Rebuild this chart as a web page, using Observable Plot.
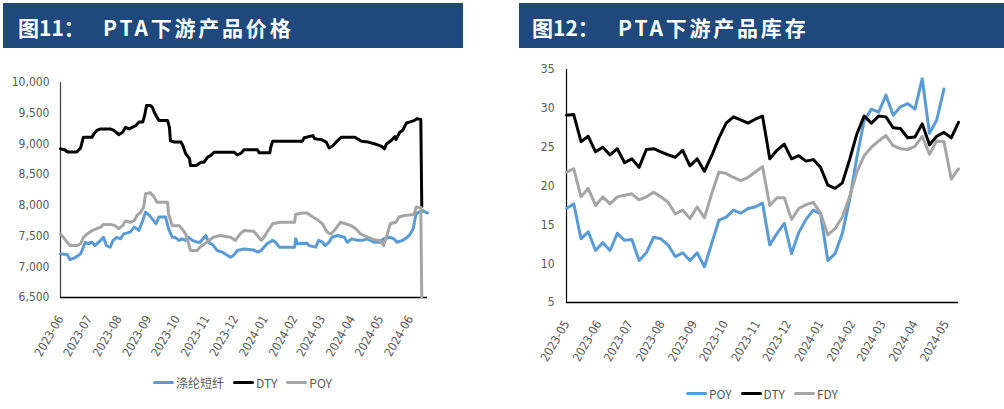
<!DOCTYPE html>
<html><head><meta charset="utf-8">
<script src="https://cdn.jsdelivr.net/npm/d3@7"></script>
<script src="https://cdn.jsdelivr.net/npm/@observablehq/plot@0.6"></script>
<style>
body{margin:0;background:#fff;}
#wrap{position:relative;width:1004px;height:409px;overflow:hidden;background:#fff;}
.bar{position:absolute;top:3px;height:45px;background:#1f497d;}
.bar span{position:absolute;top:14px;line-height:1;color:#fff;font-weight:bold;font-size:21px;font-family:"Noto Sans CJK SC",sans-serif;white-space:pre;}
.bar .a{letter-spacing:0px;}
.bar .b{letter-spacing:2.8px;}
.chart{position:absolute;}
.legend{position:absolute;display:flex;align-items:center;height:14px;font-size:12px;font-family:"Liberation Sans Narrow","Noto Sans CJK SC",sans-serif;color:#595959;}
.legend .item{display:flex;align-items:center;margin-right:9px;}
.legend .sw{display:inline-block;width:21px;height:3px;border-radius:2px;margin-right:2px;}
</style></head>
<body><div id="wrap">
<div class="bar" style="left:3px;width:460px;"><span class="a" style="left:15px;">图11：</span><span class="b" style="left:100px;">PTA下游产品价格</span></div>
<div class="bar" style="left:519px;width:485px;"><span class="a" style="left:13px;">图12：</span><span class="b" style="left:99px;">PTA下游产品库存</span></div>
<div id="left" class="chart" style="left:0;top:60px;"></div>
<div id="right" class="chart" style="left:500px;top:55px;"></div>
<div id="legL" class="legend" style="left:153px;top:375px;"></div>
<div id="legR" class="legend" style="left:686px;top:386px;"></div>
</div>
<script>
// ---------- Left chart: PTA downstream product prices ----------
const priceSeries = ["涤纶短纤", "DTY", "POY"];
const priceColors = ["#5b9bd5", "#000000", "#a5a5a5"];
const priceYTicks = [6500, 7000, 7500, 8000, 8500, 9000, 9500, 10000];
const priceXTicks = ["2023-06-01","2023-07-01","2023-08-01","2023-09-01","2023-10-01","2023-11-01","2023-12-01","2024-01-01","2024-02-01","2024-03-01","2024-04-01","2024-05-01","2024-06-01"];
const priceXDomain = ["2023-06-01", "2024-06-19"];

const fiberDates = ["2023-06-01","2023-06-08","2023-06-11","2023-06-17","2023-06-22","2023-06-27","2023-06-30","2023-07-04","2023-07-07","2023-07-13","2023-07-16","2023-07-19","2023-07-23","2023-07-26","2023-07-30","2023-08-03","2023-08-06","2023-08-13","2023-08-17","2023-08-20","2023-08-22","2023-08-26","2023-08-29","2023-09-02","2023-09-05","2023-09-09","2023-09-12","2023-09-19","2023-09-22","2023-09-26","2023-09-29","2023-10-03","2023-10-06","2023-10-10","2023-10-13","2023-10-17","2023-10-22","2023-10-25","2023-10-31","2023-11-03","2023-11-08","2023-11-12","2023-11-17","2023-11-26","2023-11-29","2023-12-03","2023-12-10","2023-12-20","2023-12-24","2023-12-28","2024-01-03","2024-01-09","2024-01-12","2024-01-16","2024-02-01","2024-02-02","2024-02-04","2024-02-14","2024-02-16","2024-02-23","2024-02-26","2024-03-01","2024-03-04","2024-03-08","2024-03-11","2024-03-17","2024-03-24","2024-03-27","2024-04-01","2024-04-07","2024-04-12","2024-04-17","2024-04-24","2024-05-01","2024-05-04","2024-05-11","2024-05-15","2024-05-18","2024-05-24","2024-05-29","2024-06-01","2024-06-04","2024-06-07","2024-06-10","2024-06-14","2024-06-17","2024-06-19"];
const fiberValues = [7210,7200,7115,7155,7210,7400,7375,7400,7345,7430,7480,7345,7320,7430,7480,7455,7535,7565,7645,7620,7590,7750,7890,7835,7780,7700,7810,7810,7620,7480,7480,7430,7455,7430,7480,7430,7400,7400,7510,7400,7345,7265,7240,7155,7185,7265,7290,7275,7240,7265,7375,7430,7400,7320,7320,7455,7375,7385,7345,7320,7430,7400,7345,7400,7480,7510,7480,7400,7455,7430,7430,7455,7400,7400,7455,7480,7455,7400,7430,7480,7535,7620,7860,7890,7915,7890,7875];

const dtyDates = ["2023-06-01","2023-06-06","2023-06-08","2023-06-18","2023-06-22","2023-06-25","2023-07-04","2023-07-06","2023-07-09","2023-07-13","2023-07-23","2023-07-27","2023-08-01","2023-08-05","2023-08-08","2023-08-12","2023-08-15","2023-08-19","2023-08-22","2023-08-26","2023-08-28","2023-08-30","2023-09-03","2023-09-05","2023-09-07","2023-09-10","2023-09-12","2023-09-21","2023-09-23","2023-09-24","2023-09-28","2023-10-05","2023-10-07","2023-10-10","2023-10-14","2023-10-15","2023-10-21","2023-10-26","2023-10-29","2023-11-02","2023-11-05","2023-11-09","2023-11-30","2023-12-03","2023-12-07","2023-12-10","2023-12-24","2023-12-26","2024-01-06","2024-01-07","2024-01-09","2024-02-09","2024-02-11","2024-02-20","2024-02-22","2024-02-29","2024-03-05","2024-03-08","2024-03-12","2024-03-17","2024-03-21","2024-04-04","2024-04-11","2024-04-18","2024-04-25","2024-05-02","2024-05-05","2024-05-07","2024-05-12","2024-05-16","2024-05-17","2024-05-21","2024-05-24","2024-05-28","2024-05-31","2024-06-05","2024-06-08","2024-06-12","2024-06-13"];
const dtyValues = [8920,8900,8870,8870,8935,9110,9110,9165,9220,9245,9245,9220,9150,9190,9270,9245,9270,9300,9355,9355,9460,9625,9625,9600,9520,9435,9380,9380,9270,9055,9030,9030,8975,8840,8760,8650,8650,8700,8700,8785,8810,8865,8865,8820,8850,8905,8905,8855,8855,8945,9045,9045,9100,9135,9085,9070,9030,8935,8970,9055,9110,9110,9045,9030,9000,8960,8920,9000,9055,9120,9070,9190,9220,9340,9355,9380,9410,9400,7980];

const poyDates = ["2023-06-01","2023-06-04","2023-06-08","2023-06-11","2023-06-18","2023-06-22","2023-06-25","2023-06-29","2023-07-04","2023-07-09","2023-07-13","2023-07-16","2023-07-23","2023-07-28","2023-08-01","2023-08-05","2023-08-08","2023-08-13","2023-08-17","2023-08-20","2023-08-24","2023-08-27","2023-08-29","2023-09-03","2023-09-07","2023-09-10","2023-09-21","2023-09-22","2023-09-26","2023-10-03","2023-10-06","2023-10-10","2023-10-13","2023-10-15","2023-10-22","2023-10-25","2023-11-01","2023-11-08","2023-11-15","2023-11-26","2023-12-01","2023-12-06","2023-12-10","2023-12-20","2023-12-24","2023-12-28","2023-12-31","2024-01-03","2024-01-09","2024-01-17","2024-02-01","2024-02-02","2024-02-09","2024-02-14","2024-02-20","2024-02-25","2024-03-01","2024-03-06","2024-03-10","2024-03-15","2024-03-20","2024-03-25","2024-03-31","2024-04-05","2024-04-10","2024-04-15","2024-04-22","2024-04-27","2024-05-01","2024-05-04","2024-05-08","2024-05-11","2024-05-17","2024-05-20","2024-05-26","2024-06-05","2024-06-07","2024-06-12","2024-06-13"];
const poyValues = [7535,7480,7400,7345,7345,7375,7480,7535,7590,7620,7645,7690,7690,7670,7620,7670,7745,7725,7750,7835,7890,7970,8190,8205,8135,8050,8050,7860,7670,7670,7620,7535,7375,7265,7265,7320,7400,7480,7510,7480,7430,7535,7590,7580,7510,7430,7480,7565,7700,7725,7725,7850,7875,7875,7810,7765,7700,7565,7535,7620,7725,7700,7670,7620,7535,7500,7455,7430,7430,7345,7535,7700,7725,7810,7835,7850,7970,7970,6500];

// ---------- Right chart: PTA downstream product inventory (days) ----------
const stockSeries = ["POY", "DTY", "FDY"];
const stockColors = ["#5b9bd5", "#000000", "#a5a5a5"];
const stockYTicks = [5, 10, 15, 20, 25, 30, 35];
const stockXTicks = ["2023-05-05","2023-06-05","2023-07-05","2023-08-05","2023-09-05","2023-10-05","2023-11-05","2023-12-05","2024-01-05","2024-02-05","2024-03-05","2024-04-05","2024-05-05"];
const stockDates = ["2023-05-05","2023-05-12","2023-05-19","2023-05-26","2023-06-02","2023-06-09","2023-06-16","2023-06-23","2023-06-30","2023-07-07","2023-07-14","2023-07-21","2023-07-28","2023-08-04","2023-08-11","2023-08-18","2023-08-25","2023-09-01","2023-09-08","2023-09-15","2023-09-22","2023-09-29","2023-10-06","2023-10-13","2023-10-20","2023-10-27","2023-11-03","2023-11-10","2023-11-17","2023-11-24","2023-12-01","2023-12-08","2023-12-15","2023-12-22","2023-12-29","2024-01-05","2024-01-12","2024-01-19","2024-01-26","2024-02-02","2024-02-09","2024-02-16","2024-02-23","2024-03-01","2024-03-08","2024-03-15","2024-03-22","2024-03-29","2024-04-05","2024-04-12","2024-04-19","2024-04-26","2024-05-03","2024-05-10","2024-05-17"];
const poyStock = [17.1,17.7,13.2,14.1,11.7,12.7,11.7,13.9,13.0,13.1,10.4,11.4,13.4,13.2,12.4,10.9,11.4,10.4,11.4,9.6,12.6,15.6,16.0,16.9,16.5,17.1,17.3,17.8,12.4,13.9,15.2,11.3,14.0,15.7,16.9,16.4,10.4,11.3,13.9,18.2,23.7,28.4,29.9,29.5,31.7,29.1,30.2,30.6,29.9,33.8,26.8,28.5,32.5,null,null];
const dtyStock = [29.1,29.2,25.7,26.4,24.4,25.0,24.0,24.8,23.0,23.5,22.4,24.7,24.8,24.4,24.0,23.7,24.6,22.6,23.5,21.9,23.9,26.2,28.1,28.9,28.5,28.1,28.6,29.0,23.5,24.6,25.4,23.5,23.9,23.2,23.4,22.4,20.1,19.7,20.4,23.4,26.7,29.0,28.1,29.0,28.9,27.5,27.4,26.2,26.3,28.0,25.3,26.4,26.9,26.2,28.2];
const fdyStock = [21.8,22.2,18.6,19.7,17.5,18.6,17.7,18.6,18.8,19.0,18.2,18.6,19.2,18.6,17.9,16.4,16.9,15.8,17.3,15.9,19.0,21.8,21.6,21.1,20.7,21.1,21.8,22.5,17.5,18.5,18.5,15.7,17.1,17.6,17.9,16.5,13.7,14.5,16.0,18.6,21.8,23.9,25.0,25.8,26.5,25.2,24.8,24.7,25.1,26.4,24.1,25.8,25.7,20.9,22.2];

// ---------- build ----------
const parse = d3.utcParse("%Y-%m-%d");
const fmtMonth = d3.utcFormat("%Y-%m");
const toRows = (dates, values) => dates.map((d, i) => ({date: parse(d), value: values[i]}));
const axisFont = '"Liberation Sans Narrow","DejaVu Sans Condensed",sans-serif';

function makeChart(cfg) {
  const marks = [
    Plot.axisY(cfg.yTicks, {tickSize: 0, tickPadding: cfg.tickPadding, tickFormat: cfg.yFormat, fontSize: 12, label: null}),
    Plot.text(cfg.xTicks.map(parse), {x: d => d, frameAnchor: "bottom", text: d => fmtMonth(d), rotate: -60, textAnchor: "end", lineAnchor: "middle", dx: 0, dy: 19, fontSize: 12, fill: "#595959"}),
    Plot.ruleX([cfg.xDomain[0]], {stroke: cfg.yAxisColor, strokeWidth: 1.2}),
    Plot.ruleY([cfg.yTicks[0]], {stroke: "#000", strokeWidth: 1.5})
  ];
  cfg.series.forEach((s, i) => {
    marks.push(Plot.line(s, {x: "date", y: "value", stroke: cfg.colors[i], strokeWidth: 3, strokeLinejoin: "round"}));
  });
  return Plot.plot({
    width: cfg.width, height: cfg.height,
    marginLeft: cfg.ml, marginRight: cfg.mr, marginTop: cfg.mt, marginBottom: cfg.mb,
    x: {type: "utc", domain: cfg.xDomain, axis: null},
    y: {domain: [cfg.yTicks[0], cfg.yTicks[cfg.yTicks.length - 1]], label: null},
    style: {fontFamily: axisFont, fontSize: "12px", color: "#595959", background: "transparent", overflow: "visible"},
    marks
  });
}

document.getElementById("left").appendChild(makeChart({
  width: 470, height: 310, ml: 60, mr: 43, mt: 22, mb: 73,
  xDomain: priceXDomain.map(parse), xTicks: priceXTicks, yTicks: priceYTicks,
  yFormat: d3.format(","), tickPadding: 11, yAxisColor: "#404040",
  colors: priceColors,
  series: [toRows(fiberDates, fiberValues), toRows(dtyDates, dtyValues), toRows(poyDates, poyValues)]
}));

document.getElementById("right").appendChild(makeChart({
  width: 500, height: 330, ml: 66, mr: 42, mt: 14, mb: 83,
  xDomain: [parse(stockDates[0]), parse(stockDates[stockDates.length - 1])], xTicks: stockXTicks, yTicks: stockYTicks,
  yFormat: d3.format("d"), tickPadding: 12, yAxisColor: "#000",
  colors: stockColors,
  series: [toRows(stockDates, poyStock), toRows(stockDates, dtyStock), toRows(stockDates, fdyStock)]
}));

function legend(el, names, colors) {
  names.forEach((n, i) => {
    const item = document.createElement("div");
    item.className = "item";
    const sw = document.createElement("span");
    sw.className = "sw";
    sw.style.background = colors[i];
    const t = document.createElement("span");
    t.textContent = n;
    item.appendChild(sw); item.appendChild(t);
    el.appendChild(item);
  });
}
legend(document.getElementById("legL"), priceSeries, priceColors);
legend(document.getElementById("legR"), stockSeries, stockColors);
</script>
</body></html>
